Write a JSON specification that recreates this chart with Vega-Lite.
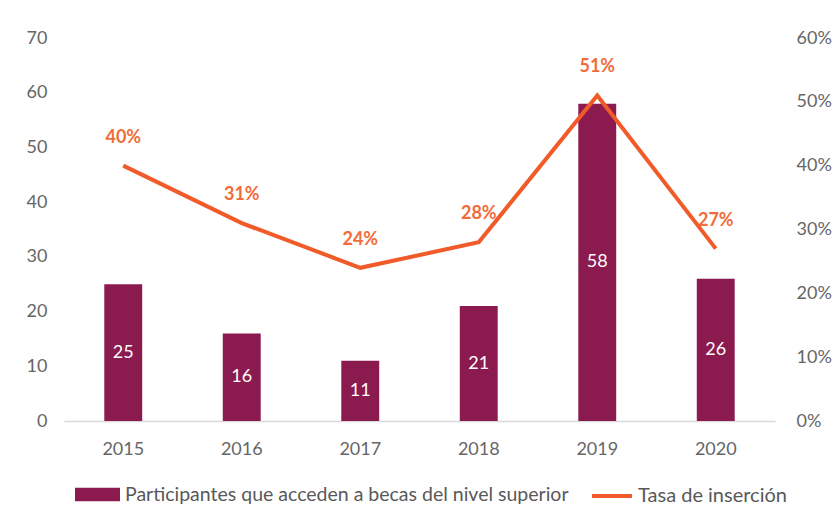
{
  "$schema": "https://vega.github.io/schema/vega-lite/v6.json",
  "width": 711,
  "height": 383,
  "autosize": "none",
  "padding": {"left": 64, "top": 38, "right": 63, "bottom": 100},
  "background": "white",
  "config": {
    "view": {"stroke": null},
    "font": "Lato",
    "axis": {"labelFont": "Lato", "labelColor": "#666666", "labelFontSize": 18, "ticks": false, "grid": false, "title": null}
  },
  "data": {
    "values": [
      {"year": "2015", "participantes": 25, "tasa": 0.40},
      {"year": "2016", "participantes": 16, "tasa": 0.31},
      {"year": "2017", "participantes": 11, "tasa": 0.24},
      {"year": "2018", "participantes": 21, "tasa": 0.28},
      {"year": "2019", "participantes": 58, "tasa": 0.51},
      {"year": "2020", "participantes": 26, "tasa": 0.27}
    ]
  },
  "encoding": {
    "x": {
      "field": "year",
      "type": "ordinal",
      "scale": {"paddingInner": 0.68, "paddingOuter": 0.34},
      "axis": {"labelAngle": 0, "domainColor": "#d9d9d9", "domainWidth": 1.5, "labelPadding": 19}
    }
  },
  "layer": [
    {
      "layer": [
        {
          "mark": {"type": "bar"},
          "encoding": {
            "y": {
              "field": "participantes",
              "type": "quantitative",
              "scale": {"domain": [0, 70]},
              "axis": {"orient": "left", "values": [0, 10, 20, 30, 40, 50, 60, 70], "domain": false, "labelPadding": 17}
            },
            "color": {
              "datum": "Participantes que acceden a becas del nivel superior",
              "type": "nominal",
              "scale": {"range": ["#8B1A4F"]},
              "legend": {
                "title": null,
                "orient": "none",
                "legendX": 11,
                "legendY": 434,
                "symbolType": "M-1,-0.3H1V0.3H-1Z",
                "symbolSize": 2025,
                "symbolStrokeWidth": 0,
                "labelFontSize": 19.5,
                "labelColor": "#595959",
                "labelOffset": 5,
                "labelLimit": 700
              }
            }
          }
        },
        {
          "mark": {"type": "text", "color": "white", "fontSize": 18, "baseline": "middle"},
          "encoding": {
            "y": {"field": "participantes", "type": "quantitative", "scale": {"domain": [0, 140]}, "axis": null},
            "text": {"field": "participantes", "type": "quantitative"}
          }
        }
      ],
      "resolve": {"scale": {"y": "independent"}}
    },
    {
      "layer": [
        {
          "mark": {"type": "line", "strokeWidth": 4},
          "encoding": {
            "y": {
              "field": "tasa",
              "type": "quantitative",
              "scale": {"domain": [0, 0.6]},
              "axis": {"orient": "right", "format": ".0%", "values": [0, 0.1, 0.2, 0.3, 0.4, 0.5, 0.6], "domain": false, "labelPadding": 21}
            },
            "stroke": {
              "datum": "Tasa de inserción",
              "type": "nominal",
              "scale": {"range": ["#F15A29"]},
              "legend": {
                "title": null,
                "orient": "none",
                "legendX": 526,
                "legendY": 436,
                "symbolType": "stroke",
                "symbolSize": 1600,
                "symbolStrokeWidth": 4,
                "labelFontSize": 20,
                "labelColor": "#595959",
                "labelOffset": 4,
                "labelLimit": 300
              }
            }
          }
        },
        {
          "mark": {"type": "text", "color": "#F26B3A", "fontSize": 18, "fontWeight": "bold", "dy": -28},
          "encoding": {
            "y": {"field": "tasa", "type": "quantitative"},
            "text": {"field": "tasa", "type": "quantitative", "format": ".0%"}
          }
        }
      ]
    }
  ],
  "resolve": {"scale": {"y": "independent"}}
}
